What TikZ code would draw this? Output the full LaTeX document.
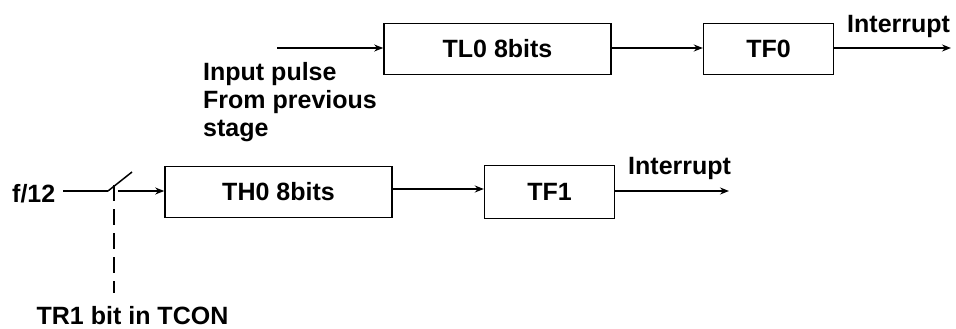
\documentclass[tikz,border=0pt]{standalone}
\usepackage{fontspec}
\setmainfont{Liberation Sans}
\usepackage{tikz}
\usetikzlibrary{arrows.meta,positioning}

\begin{document}
\begin{tikzpicture}[
		x=1pt, y=-1pt,
		node distance=91pt,
		every node/.style={font=\bfseries\fontsize{25}{28}\selectfont, inner sep=0pt},
		regbox/.style={draw, line width=1.6pt, minimum height=51pt},
		wide/.style={regbox, minimum width=227pt},
		narrow/.style={regbox, minimum width=130pt},
		arrow/.style={-{Stealth[length=9pt,width=7pt,inset=3pt]}, line width=1.5pt},
		wire/.style={line width=1.5pt}
	]
		\useasboundingbox (0,0) rectangle (956,329);
		% timer 0, low byte
		\node[wide] (tlzero) at (497.5,49) {TL0 8bits};
		\node[narrow, right=of tlzero] (tfzero) {TF0};
		\node[anchor=north west, align=left] (pulse) at (203,62) {Input pulse\\From previous\\stage};
		\node[anchor=north west] (irqzero) at (847,15) {Interrupt};
		\coordinate (pulsein) at (277,48);
		\coordinate (irqa) at (951,48);
		\draw[arrow] (pulsein) -- (pulsein -| tlzero.west);
		\draw[arrow] ([yshift=1pt]tlzero.east) -- ([yshift=1pt]tlzero.east -| tfzero.west);
		\draw[arrow] (tfzero.east |- irqa) -- (irqa);
		% timer 0, high byte
		\node[wide] (thzero) at (278.5,192) {TH0 8bits};
		\node[narrow, right=of thzero, minimum height=53pt] (tfone) {TF1};
		\node[anchor=base west] (fclk) at (12,202) {f/12};
		\node (tcon) at (132.5,316) {TR1 bit in TCON};
		\node[anchor=north west] (irqone) at (628,157) {Interrupt};
		\coordinate (swin) at (108,191);
		\coordinate (swtip) at (132,172);
		\coordinate (swout) at (118,191);
		\coordinate (tctop) at (114,185);
		\coordinate (irqb) at (729,191);
		\draw[wire] ([xshift=8pt]fclk.east |- swin) -- (swin);
		\draw[wire] (swin) -- (swtip);
		\draw[wire, dash pattern=on 16pt off 8pt] (tctop) -- ([yshift=14pt]tcon.north -| tctop);
		\draw[arrow] (swout) -- (swout -| thzero.west);
		\draw[arrow] ([yshift=3pt]thzero.east) -- ([yshift=3pt]thzero.east -| tfone.west);
		\draw[arrow] (tfone.east |- irqb) -- (irqb);
\end{tikzpicture}
\end{document}
